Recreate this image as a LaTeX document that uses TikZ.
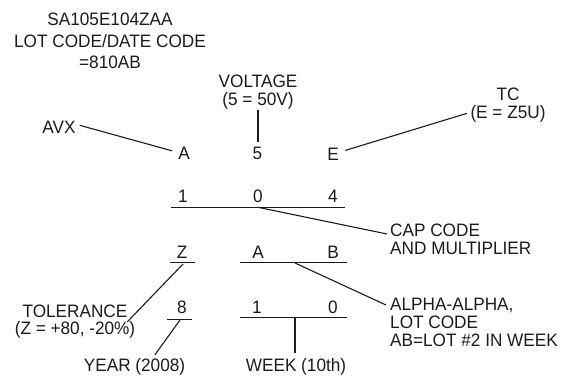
\documentclass[tikz,border=0pt]{standalone}
\usepackage{fontspec}
\setmainfont{Liberation Sans}[FakeStretch=0.955]
\usepackage{xcolor}
\usepackage{tikz}
\definecolor{cink}{HTML}{1C1A1B}
\tikzset{
  lbl/.style={inner sep=0pt,text=cink,font=\fontsize{18}{20}\selectfont},
  mlbl/.style={lbl,align=#1},
  lead/.style={line width=1.1pt,cink},
}

\begin{document}
\begin{tikzpicture}[x=1pt,y=-1pt]
\useasboundingbox (0,0) rectangle (565,375);

% ================= TITLE =================
\node[mlbl=center,anchor=north,font=\fontsize{18}{21.2}\selectfont] (title) at (110,13.1) {SA105E104ZAA\\LOT CODE/DATE CODE\\=810AB};

% ================= ROW 1 : A 5 E =================
\node[lbl,anchor=base] (r1a) at (184,159) {A};
\node[lbl,anchor=base] (r1b) at (257.5,159) {5};
\node[lbl,anchor=base] (r1c) at (333,160) {E};
\node[lbl,anchor=base] (avx) at (59,133) {AVX};
\node[mlbl=center,anchor=north,font=\fontsize{18}{18}\selectfont] (volt) at (258,75.1) {VOLTAGE\\(5 = 50V)};
\node[mlbl=center,anchor=north,font=\fontsize{18}{18}\selectfont] (tc) at (508,87.5) {TC\\(E = Z5U)};
\draw[lead] ([shift={(4pt,1.5pt)}]avx.east) -- ([shift={(-6pt,-4.4pt)}]r1a.north west);
\draw[lead] (volt.south) -- ([yshift=4.5pt]volt.south |- r1b.north);
\draw[lead] ([shift={(6.3pt,-3pt)}]r1c.north east) -- ([shift={(-3.5pt,8.8pt)}]tc.south west);

% ================= ROW 2 : 1 0 4 =================
\node[lbl,anchor=base] (r2a) at (183,202) {1};
\node[lbl,anchor=base] (r2b) at (258,202) {0};
\node[lbl,anchor=base] (r2c) at (333,202) {4};
\coordinate (r2L) at ([shift={(-12pt,-5.3pt)}]r2a.base);
\coordinate (r2R) at ([shift={(12pt,-5.3pt)}]r2c.base);
\draw[lead] (r2L) -- (r2R);
\node[mlbl=left,anchor=north west,font=\fontsize{18}{18.5}\selectfont] (caps) at (390,223.6) {CAP CODE\\AND MULTIPLIER};
\draw[lead] (r2b |- r2L) -- ([shift={(-3pt,-10.4pt)}]caps.north west);

% ================= ROW 3 : Z A B =================
\node[lbl,anchor=base] (r3a) at (182,258) {Z};
\node[lbl,anchor=base] (r3b) at (258,258) {A};
\node[lbl,anchor=base] (r3c) at (333,258) {B};
\draw[lead] ([shift={(-12pt,-4.7pt)}]r3a.base) -- ([shift={(13pt,-4.7pt)}]r3a.base);
\coordinate (r3L) at ([shift={(-18pt,-4.7pt)}]r3b.base);
\coordinate (r3R) at ([shift={(14pt,-4.7pt)}]r3c.base);
\draw[lead] (r3L) -- (r3R);
\node[mlbl=left,anchor=north west,font=\fontsize{18}{18}\selectfont] (alpha) at (390,298) {ALPHA-ALPHA,\\LOT CODE\\AB=LOT \#2 IN WEEK};
\node[mlbl=center,anchor=north,font=\fontsize{18}{16.8}\selectfont] (tol) at (75,305) {TOLERANCE\\(Z = +80, -20\%)};
\draw[lead] ([shift={(37pt,-5pt)}]r3b.base) -- ([shift={(-4pt,-7pt)}]alpha.north west);
\draw[lead] ([shift={(1pt,-6pt)}]r3a.base) -- ([xshift=-8pt]tol.east);

% ================= ROW 4 : 8 1 0 =================
\node[lbl,anchor=base] (r4a) at (182,313) {8};
\node[lbl,anchor=base] (r4b) at (257,313) {1};
\node[lbl,anchor=base] (r4c) at (333,313) {0};
\draw[lead] ([shift={(-15pt,-6.3pt)}]r4a.base) -- ([shift={(10pt,-6.3pt)}]r4a.base);
\coordinate (r4L) at ([shift={(-17pt,-4.5pt)}]r4b.base);
\coordinate (r4R) at ([shift={(14pt,-4.5pt)}]r4c.base);
\draw[lead] (r4L) -- (r4R);
\node[lbl,anchor=base] (year) at (134.5,371) {YEAR (2008)};
\node[lbl,anchor=base] (week) at (296,371) {WEEK (10th)};
\draw[lead] ([shift={(-2pt,-7pt)}]r4a.base) -- ([shift={(20.5pt,3pt)}]year.north);
\draw[lead] ([xshift=-1pt]week.north |- r4L) -- ([shift={(-1pt,5pt)}]week.north);

\end{tikzpicture}
\end{document}
